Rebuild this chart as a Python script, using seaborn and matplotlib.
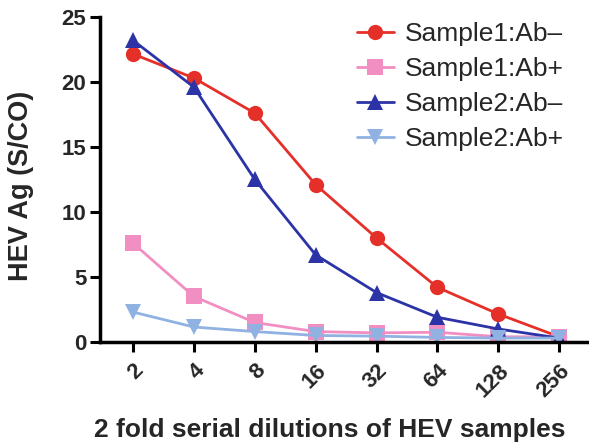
import numpy as np
import pandas as pd
import matplotlib
matplotlib.use("Agg")
import matplotlib.pyplot as plt
import seaborn as sns

DILUTIONS = [2, 4, 8, 16, 32, 64, 128, 256]
SERIES = ["Sample1:Ab–", "Sample1:Ab+", "Sample2:Ab–", "Sample2:Ab+"]
S1_NEG = [22.15, 20.3, 17.6, 12.1, 8.0, 4.2, 2.15, 0.4]
S1_POS = [7.6, 3.5, 1.5, 0.8, 0.7, 0.75, 0.4, 0.4]
S2_NEG = [23.2, 19.6, 12.5, 6.7, 3.8, 1.9, 1.0, 0.3]
S2_POS = [2.3, 1.15, 0.8, 0.5, 0.45, 0.35, 0.3, 0.3]

COLORS = ["#e5302a", "#f18fc3", "#2b33a6", "#8fb2e2"]
MARKERS = ["o", "s", "^", "v"]

rows = []
for name, vals in zip(SERIES, [S1_NEG, S1_POS, S2_NEG, S2_POS]):
    for i, v in enumerate(vals):
        rows.append({"pos": i, "dilution": DILUTIONS[i], "value": v, "series": name})
df = pd.DataFrame(rows)

sns.set_theme(style="ticks")
plt.rcParams['font.family'] = ['Liberation Sans', 'DejaVu Sans']

fig = plt.figure(figsize=(5.89, 4.45), dpi=100)
ax = fig.add_axes([0.17, 0.2315, 0.83, 0.7305])

sns.lineplot(data=df, x="pos", y="value", hue="series", style="series",
             hue_order=SERIES, style_order=SERIES, palette=COLORS,
             markers=MARKERS, dashes=False, markersize=11, linewidth=2,
             markeredgewidth=0, ax=ax)

ax.set_xlim(-0.54, 7.49)
ax.set_ylim(0, 25)
ax.set_yticks([0, 5, 10, 15, 20, 25])
ax.set_xticks(range(len(DILUTIONS)))
ax.set_xticklabels([str(d) for d in DILUTIONS], rotation=45, ha="right",
                   rotation_mode="anchor", fontweight="bold", fontsize=16)
for lab in ax.get_yticklabels():
    lab.set_fontweight("bold")
    lab.set_fontsize(16)

ax.set_xlabel("2 fold serial dilutions of HEV samples", fontweight="bold", fontsize=19)
ax.set_ylabel("HEV Ag (S/CO)", fontweight="bold", fontsize=19.5)
ax.xaxis.set_label_coords(0.47, -0.235)
ax.yaxis.set_label_coords(-0.135, 0.48)

for s in ["top", "right"]:
    ax.spines[s].set_visible(False)
for s in ["left", "bottom"]:
    ax.spines[s].set_linewidth(2.5)
    ax.spines[s].set_color("black")
ax.tick_params(axis="both", width=2.2, length=7, color="black", direction="out")
ax.tick_params(axis="x", pad=6)
ax.tick_params(axis="y", pad=3)

leg = ax.legend(loc="upper left", frameon=False, fontsize=19, handlelength=1.4,
                handletextpad=0.42, labelspacing=0.42, borderpad=0, borderaxespad=0,
                bbox_to_anchor=(357 / 589, 1 - 22 / 445), bbox_transform=fig.transFigure)
ax.grid(False)

fig.savefig("out.png", dpi=100)
